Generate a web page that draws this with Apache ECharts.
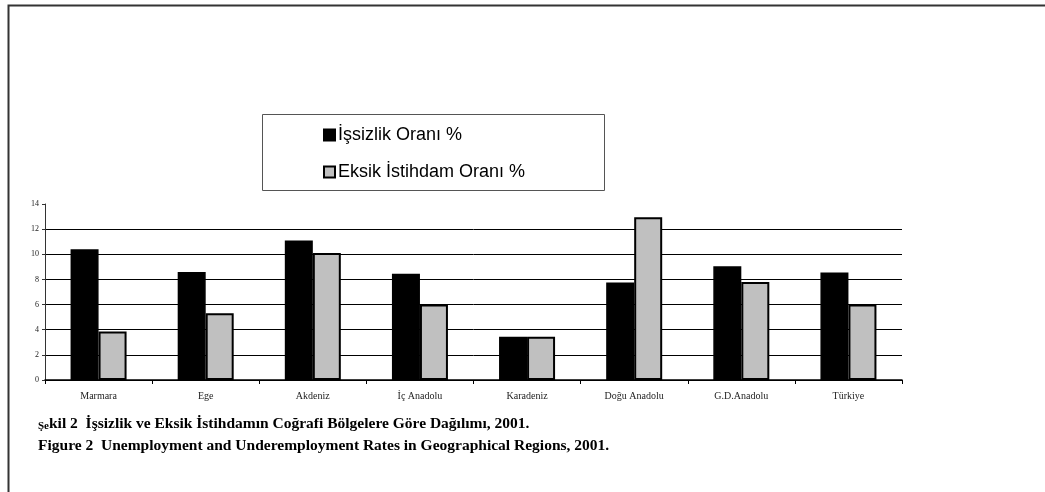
<!DOCTYPE html>
<html>
<head>
<meta charset="utf-8">
<script src="https://cdn.jsdelivr.net/npm/echarts@6/dist/echarts.min.js"></script>
<style>
html,body{margin:0;padding:0;background:#fff;}
#c{width:1045px;height:492px;}
</style>
</head>
<body>
<div id="c"></div>
<script>
var categories = ['Marmara', 'Ege', 'Akdeniz', 'İç Anadolu', 'Karadeniz', 'Doğu Anadolu', 'G.D.Anadolu', 'Türkiye'];
var unemployment = [10.4, 8.6, 11.1, 8.45, 3.45, 7.75, 9.05, 8.55];
var underemployment = [3.85, 5.3, 10.1, 6.0, 3.45, 12.95, 7.8, 6.0];
var seriesNames = ['İşsizlik Oranı %', 'Eksik İstihdam Oranı %'];
var yTicks = [0, 2, 4, 6, 8, 10, 12, 14];

var chart = echarts.init(document.getElementById('c'), null, {renderer: 'canvas'});
chart.setOption({
  animation: false,
  backgroundColor: '#fff',
  grid: {left: 45, right: 143, top: 204, bottom: 112, containLabel: false},
  legend: {
    orient: 'vertical',
    left: 318, top: 121,
    itemWidth: 11, itemHeight: 11,
    itemGap: 19,
    icon: 'rect',
    textStyle: {fontFamily: 'Liberation Sans, Arial, sans-serif', fontSize: 18, color: '#000', padding: [0,0,0,-2]},
    data: seriesNames
  },
  xAxis: {
    type: 'category',
    data: categories,
    boundaryGap: true,
    axisLine: {lineStyle: {color: '#000', width: 1.5}},
    axisTick: {show: true, length: 4, lineStyle: {color: '#000'}},
    axisLabel: {fontFamily: 'Liberation Serif, Times New Roman, serif', fontSize: 10, color: '#222', margin: 11}
  },
  yAxis: {
    type: 'value',
    min: yTicks[0], max: yTicks[yTicks.length - 1], interval: 2,
    axisLine: {show: true, lineStyle: {color: '#333', width: 1}},
    axisTick: {show: true, length: 3, inside: false, lineStyle: {color: '#333'}},
    axisLabel: {fontFamily: 'Liberation Serif, Times New Roman, serif', fontSize: 8, color: '#222', margin: 6},
    splitLine: {show: true, showMaxLine: false, lineStyle: {color: '#000', width: 1}}
  },
  series: [
    {
      name: seriesNames[0], type: 'bar', data: unemployment,
      barWidth: 28, barGap: '0%',
      itemStyle: {color: '#000', borderColor: '#000', borderWidth: 1.5}
    },
    {
      name: seriesNames[1], type: 'bar', data: underemployment,
      barWidth: 28, barGap: '0%',
      itemStyle: {color: '#c0c0c0', borderColor: '#000', borderWidth: 2}
    }
  ],
  graphic: [
    {type: 'rect', left: 6, top: 3, shape: {x: 0, y: 0, width: 1100, height: 600},
     style: {fill: null, stroke: '#333', lineWidth: 2}, silent: true},
    {type: 'rect', left: 260, top: 112, shape: {x: 0, y: 0, width: 342, height: 76},
     style: {fill: null, stroke: '#555', lineWidth: 1}, silent: true, z: -1},
    {type: 'text', left: 38, top: 416, style: {
      text: '{s|Şe}{b|kil 2  İşsizlik ve Eksik İstihdamın Coğrafi Bölgelere Göre Dağılımı, 2001.}',
      rich: {
        s: {fontFamily: 'Liberation Serif, Times New Roman, serif', fontWeight: 'bold', fontSize: 11, fill: '#000', verticalAlign: 'bottom'},
        b: {fontFamily: 'Liberation Serif, Times New Roman, serif', fontWeight: 'bold', fontSize: 15.5, fill: '#000'}
      }
    }},
    {type: 'text', left: 38, top: 438, style: {
      text: 'Figure 2  Unemployment and Underemployment Rates in Geographical Regions, 2001.',
      fontFamily: 'Liberation Serif, Times New Roman, serif', fontWeight: 'bold', fontSize: 15.5, fill: '#000'
    }}
  ]
});
</script>
</body>
</html>
